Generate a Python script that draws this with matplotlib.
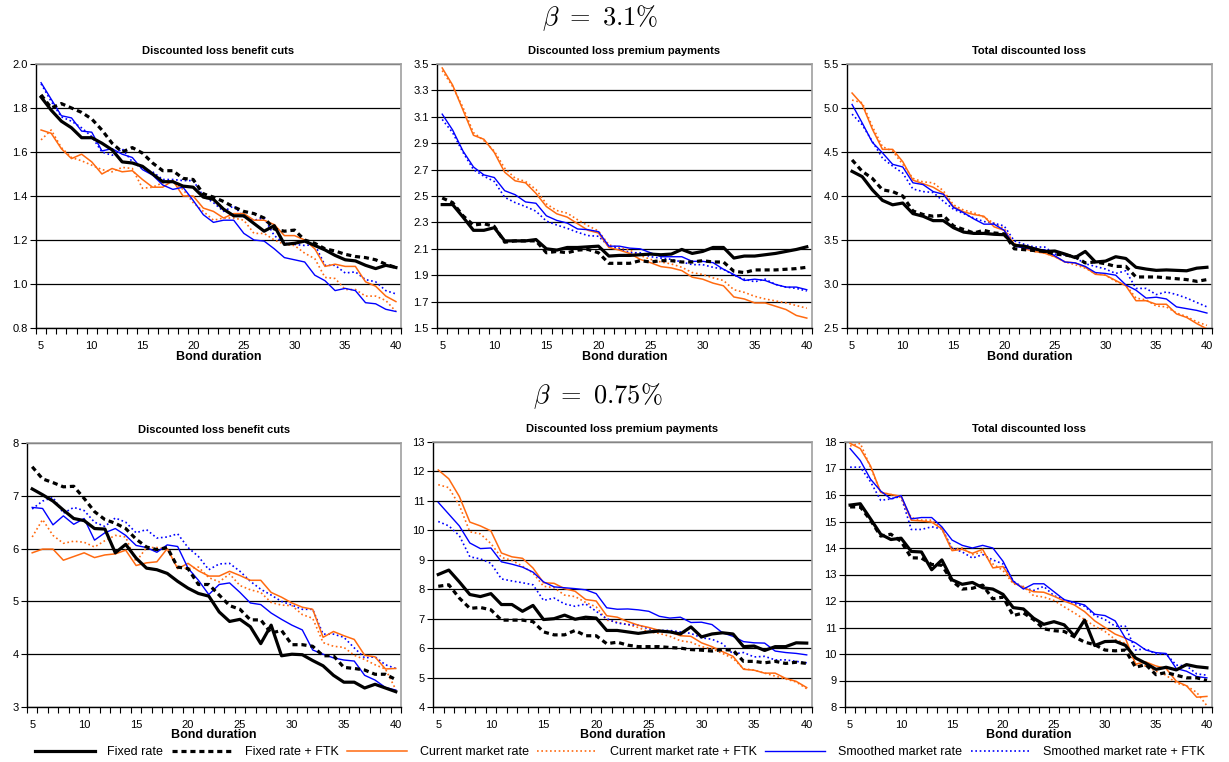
import numpy as np
import matplotlib
matplotlib.use("Agg")
import matplotlib.pyplot as plt
from matplotlib.ticker import FormatStrFormatter, FixedLocator

plt.rcParams["font.family"] = ["Liberation Sans", "DejaVu Sans"]
plt.rcParams["mathtext.fontset"] = "cm"

durations = list(range(5, 41))

# --- beta = 3.1% -------------------------------------------------------------
# Discounted loss benefit cuts
cuts_hi_fixed = [1.85, 1.79, 1.74, 1.71, 1.665, 1.665, 1.64, 1.61, 1.555, 1.55, 1.535, 1.50,
                 1.465, 1.465, 1.445, 1.44, 1.395, 1.385, 1.34, 1.31, 1.31, 1.275, 1.24, 1.265,
                 1.18, 1.185, 1.195, 1.175, 1.155, 1.13, 1.11, 1.105, 1.085, 1.07, 1.085, 1.075]
cuts_hi_fixed_ftk = [1.86, 1.80, 1.82, 1.80, 1.78, 1.75, 1.70, 1.64, 1.60, 1.62, 1.595, 1.55,
                     1.515, 1.515, 1.48, 1.475, 1.41, 1.395, 1.375, 1.35, 1.33, 1.32, 1.30, 1.25,
                     1.24, 1.245, 1.20, 1.185, 1.16, 1.15, 1.135, 1.125, 1.12, 1.11, 1.09, 1.075]
cuts_hi_cur = [1.70, 1.685, 1.615, 1.57, 1.59, 1.555, 1.50, 1.525, 1.51, 1.515, 1.475, 1.44,
               1.44, 1.47, 1.40, 1.40, 1.345, 1.33, 1.30, 1.32, 1.32, 1.29, 1.29, 1.27,
               1.22, 1.22, 1.20, 1.16, 1.08, 1.09, 1.08, 1.08, 1.01, 0.99, 0.945, 0.92]
cuts_hi_cur_ftk = [1.655, 1.70, 1.62, 1.575, 1.56, 1.54, 1.52, 1.51, 1.53, 1.525, 1.435, 1.44,
                   1.46, 1.465, 1.43, 1.37, 1.33, 1.29, 1.30, 1.30, 1.29, 1.23, 1.23, 1.20,
                   1.18, 1.175, 1.14, 1.115, 1.03, 1.025, 0.975, 0.975, 0.945, 0.945, 0.925, 0.875]
cuts_hi_smo = [1.915, 1.84, 1.765, 1.755, 1.695, 1.69, 1.605, 1.615, 1.59, 1.575, 1.52, 1.495,
               1.45, 1.43, 1.44, 1.38, 1.315, 1.28, 1.29, 1.29, 1.23, 1.20, 1.195, 1.16,
               1.12, 1.11, 1.10, 1.04, 1.015, 0.97, 0.98, 0.97, 0.915, 0.91, 0.885, 0.875]
cuts_hi_smo_ftk = [1.91, 1.83, 1.76, 1.74, 1.71, 1.67, 1.60, 1.585, 1.615, 1.555, 1.525, 1.51,
                   1.475, 1.475, 1.47, 1.47, 1.40, 1.37, 1.33, 1.355, 1.305, 1.29, 1.30, 1.22,
                   1.185, 1.18, 1.175, 1.18, 1.085, 1.085, 1.05, 1.055, 1.02, 1.01, 0.97, 0.955]

# Discounted loss premium payments
prem_hi_fixed = [2.435, 2.435, 2.34, 2.24, 2.24, 2.26, 2.16, 2.16, 2.16, 2.17, 2.10, 2.09,
                 2.11, 2.11, 2.115, 2.12, 2.045, 2.05, 2.05, 2.055, 2.06, 2.055, 2.06, 2.095,
                 2.065, 2.08, 2.11, 2.11, 2.03, 2.045, 2.045, 2.055, 2.065, 2.08, 2.095, 2.115]
prem_hi_fixed_ftk = [2.485, 2.45, 2.35, 2.28, 2.29, 2.27, 2.15, 2.16, 2.16, 2.16, 2.07, 2.08,
                     2.07, 2.09, 2.095, 2.07, 1.99, 1.99, 1.99, 2.01, 2.00, 2.01, 2.01, 2.00,
                     2.00, 2.01, 2.00, 2.00, 1.93, 1.92, 1.94, 1.94, 1.94, 1.945, 1.95, 1.96]
prem_hi_cur = [3.47, 3.34, 3.15, 2.96, 2.93, 2.83, 2.68, 2.615, 2.60, 2.52, 2.42, 2.365,
               2.34, 2.29, 2.24, 2.22, 2.11, 2.09, 2.065, 2.02, 1.995, 1.965, 1.955, 1.935,
               1.885, 1.87, 1.84, 1.82, 1.735, 1.72, 1.69, 1.69, 1.665, 1.64, 1.595, 1.575]
prem_hi_cur_ftk = [3.45, 3.33, 3.17, 2.98, 2.92, 2.84, 2.71, 2.635, 2.61, 2.55, 2.44, 2.39,
                   2.37, 2.32, 2.275, 2.235, 2.13, 2.11, 2.09, 2.05, 2.02, 2.00, 1.985, 1.96,
                   1.92, 1.905, 1.88, 1.86, 1.79, 1.77, 1.74, 1.72, 1.705, 1.69, 1.67, 1.65]
prem_hi_smo = [3.12, 3.00, 2.84, 2.72, 2.66, 2.64, 2.54, 2.51, 2.455, 2.445, 2.35, 2.315,
               2.295, 2.25, 2.245, 2.23, 2.12, 2.12, 2.105, 2.10, 2.07, 2.04, 2.04, 2.04,
               2.005, 2.005, 1.995, 1.945, 1.905, 1.86, 1.87, 1.86, 1.83, 1.81, 1.81, 1.79]
prem_hi_smo_ftk = [3.08, 2.98, 2.83, 2.70, 2.65, 2.61, 2.49, 2.45, 2.42, 2.385, 2.31, 2.28,
                   2.255, 2.225, 2.20, 2.195, 2.12, 2.10, 2.07, 2.07, 2.04, 2.03, 2.02, 2.00,
                   1.98, 1.98, 1.96, 1.945, 1.90, 1.87, 1.85, 1.87, 1.83, 1.81, 1.80, 1.78]

# Total discounted loss
total_hi_fixed = [4.28, 4.22, 4.07, 3.95, 3.90, 3.92, 3.80, 3.77, 3.72, 3.72, 3.64, 3.59,
                  3.575, 3.575, 3.565, 3.56, 3.44, 3.43, 3.40, 3.37, 3.375, 3.34, 3.30, 3.37,
                  3.25, 3.26, 3.31, 3.29, 3.19, 3.17, 3.155, 3.16, 3.155, 3.15, 3.18, 3.19]
total_hi_fixed_ftk = [4.41, 4.28, 4.20, 4.07, 4.05, 4.00, 3.83, 3.79, 3.77, 3.78, 3.66, 3.62,
                      3.58, 3.61, 3.58, 3.57, 3.40, 3.39, 3.38, 3.37, 3.34, 3.33, 3.31, 3.24,
                      3.25, 3.23, 3.20, 3.20, 3.08, 3.08, 3.08, 3.07, 3.06, 3.05, 3.03, 3.05]
total_hi_cur = [5.17, 5.04, 4.76, 4.53, 4.53, 4.39, 4.18, 4.14, 4.10, 4.03, 3.88, 3.82,
                3.79, 3.77, 3.65, 3.61, 3.45, 3.40, 3.37, 3.35, 3.31, 3.25, 3.24, 3.19,
                3.11, 3.10, 3.04, 2.98, 2.81, 2.81, 2.77, 2.77, 2.66, 2.62, 2.55, 2.49]
total_hi_cur_ftk = [5.09, 5.06, 4.79, 4.56, 4.51, 4.36, 4.20, 4.16, 4.15, 4.06, 3.90, 3.84,
                    3.81, 3.76, 3.69, 3.63, 3.46, 3.41, 3.37, 3.35, 3.31, 3.25, 3.22, 3.18,
                    3.12, 3.10, 3.03, 2.99, 2.84, 2.82, 2.75, 2.74, 2.67, 2.63, 2.57, 2.53]
total_hi_smo = [5.04, 4.83, 4.61, 4.49, 4.36, 4.33, 4.15, 4.13, 4.05, 4.02, 3.87, 3.81,
                3.74, 3.68, 3.68, 3.61, 3.43, 3.41, 3.39, 3.39, 3.32, 3.25, 3.24, 3.20,
                3.13, 3.12, 3.10, 2.99, 2.93, 2.84, 2.85, 2.83, 2.74, 2.72, 2.70, 2.67]
total_hi_smo_ftk = [4.93, 4.81, 4.62, 4.43, 4.34, 4.26, 4.08, 4.05, 4.04, 3.94, 3.85, 3.80,
                    3.75, 3.71, 3.69, 3.66, 3.49, 3.45, 3.42, 3.42, 3.34, 3.33, 3.30, 3.23,
                    3.20, 3.17, 3.12, 3.15, 2.95, 2.95, 2.88, 2.91, 2.88, 2.84, 2.79, 2.74]

# --- beta = 0.75% ------------------------------------------------------------
cuts_lo_fixed = [7.13, 7.02, 6.90, 6.73, 6.57, 6.53, 6.38, 6.37, 5.92, 6.08, 5.82, 5.63,
                 5.60, 5.53, 5.38, 5.25, 5.15, 5.10, 4.80, 4.62, 4.66, 4.52, 4.20, 4.55,
                 3.97, 4.00, 3.99, 3.88, 3.78, 3.60, 3.47, 3.47, 3.36, 3.43, 3.36, 3.29]
cuts_lo_fixed_ftk = [7.55, 7.32, 7.25, 7.17, 7.18, 6.95, 6.70, 6.55, 6.48, 6.38, 6.18, 6.03,
                     5.98, 6.02, 5.65, 5.62, 5.32, 5.32, 5.12, 4.92, 4.85, 4.65, 4.65, 4.40,
                     4.45, 4.18, 4.18, 4.15, 3.97, 3.97, 3.75, 3.73, 3.70, 3.62, 3.62, 3.52]
cuts_lo_cur = [5.92, 5.99, 5.99, 5.78, 5.85, 5.92, 5.83, 5.88, 5.90, 5.97, 5.68, 5.73,
               5.75, 6.00, 5.62, 5.72, 5.58, 5.48, 5.48, 5.57, 5.49, 5.40, 5.40, 5.17,
               5.08, 4.97, 4.89, 4.85, 4.32, 4.43, 4.35, 4.28, 3.98, 3.95, 3.72, 3.73]
cuts_lo_cur_ftk = [6.22, 6.55, 6.25, 6.10, 6.14, 6.12, 6.03, 6.15, 6.25, 6.22, 5.75, 6.02,
                   6.02, 5.99, 5.65, 5.62, 5.65, 5.45, 5.37, 5.52, 5.30, 5.22, 5.17, 4.98,
                   4.93, 4.92, 4.75, 4.68, 4.22, 4.15, 4.13, 3.98, 3.90, 3.80, 3.72, 3.33]
cuts_lo_smo = [6.78, 6.76, 6.45, 6.62, 6.46, 6.57, 6.16, 6.30, 6.38, 6.25, 6.06, 6.02,
               5.93, 6.07, 6.04, 5.63, 5.40, 5.13, 5.32, 5.35, 5.17, 4.97, 4.94, 4.78,
               4.66, 4.55, 4.46, 4.08, 4.00, 3.93, 3.89, 3.87, 3.60, 3.51, 3.37, 3.32]
cuts_lo_smo_ftk = [6.75, 6.90, 6.97, 6.67, 6.78, 6.72, 6.50, 6.42, 6.58, 6.50, 6.30, 6.36,
                   6.20, 6.22, 6.28, 6.02, 5.85, 5.60, 5.71, 5.72, 5.57, 5.38, 5.23, 5.12,
                   5.00, 4.93, 4.85, 4.85, 4.38, 4.38, 4.32, 4.12, 3.93, 3.95, 3.80, 3.73]

prem_lo_fixed = [8.50, 8.65, 8.25, 7.82, 7.75, 7.85, 7.48, 7.48, 7.25, 7.45, 6.97, 7.00,
                 7.12, 6.98, 7.05, 7.02, 6.60, 6.60, 6.55, 6.50, 6.55, 6.58, 6.55, 6.48,
                 6.72, 6.38, 6.48, 6.52, 6.48, 6.05, 6.07, 5.92, 6.05, 6.05, 6.18, 6.17]
prem_lo_fixed_ftk = [8.10, 8.15, 7.70, 7.35, 7.38, 7.30, 6.95, 6.95, 6.95, 6.90, 6.55, 6.45,
                     6.45, 6.60, 6.42, 6.42, 6.15, 6.20, 6.10, 6.05, 6.05, 6.05, 6.02, 6.00,
                     5.95, 5.93, 5.90, 5.95, 5.93, 5.55, 5.55, 5.50, 5.55, 5.48, 5.52, 5.48]
prem_lo_cur = [12.05, 11.75, 11.15, 10.28, 10.15, 9.98, 9.23, 9.10, 9.05, 8.72, 8.22, 8.20,
               8.02, 7.93, 7.65, 7.60, 7.10, 7.05, 6.90, 6.78, 6.70, 6.60, 6.55, 6.42,
               6.40, 6.18, 6.05, 5.88, 5.72, 5.28, 5.25, 5.15, 5.15, 4.97, 4.87, 4.66]
prem_lo_cur_ftk = [11.55, 11.45, 10.85, 9.95, 9.88, 9.55, 9.08, 8.98, 8.78, 8.55, 8.10, 8.05,
                   7.80, 7.75, 7.55, 7.40, 6.95, 6.88, 6.80, 6.70, 6.55, 6.50, 6.40, 6.25,
                   6.20, 6.05, 5.98, 5.82, 5.65, 5.30, 5.25, 5.15, 5.05, 4.95, 4.85, 4.62]
prem_lo_smo = [10.95, 10.55, 10.15, 9.57, 9.38, 9.40, 8.93, 8.85, 8.75, 8.58, 8.25, 8.08,
               8.05, 8.02, 7.98, 7.85, 7.37, 7.32, 7.33, 7.30, 7.25, 7.08, 7.02, 7.05,
               6.87, 6.88, 6.80, 6.52, 6.40, 6.22, 6.18, 6.17, 5.90, 5.85, 5.82, 5.77]
prem_lo_smo_ftk = [10.30, 10.15, 9.82, 9.10, 9.03, 8.88, 8.35, 8.28, 8.22, 8.15, 7.62, 7.70,
                   7.50, 7.42, 7.50, 7.25, 7.00, 6.85, 6.80, 6.78, 6.65, 6.60, 6.60, 6.55,
                   6.50, 6.35, 6.30, 6.15, 5.80, 5.85, 5.70, 5.72, 5.60, 5.60, 5.55, 5.50]

total_lo_fixed = [15.62, 15.67, 15.10, 14.52, 14.32, 14.37, 13.87, 13.85, 13.18, 13.55, 12.80, 12.63,
                  12.70, 12.50, 12.45, 12.25, 11.75, 11.70, 11.35, 11.12, 11.22, 11.10, 10.68, 11.28,
                  10.32, 10.47, 10.48, 10.33, 9.85, 9.65, 9.42, 9.50, 9.40, 9.60, 9.52, 9.48]
total_lo_fixed_ftk = [15.55, 15.55, 15.05, 14.45, 14.52, 14.25, 13.63, 13.62, 13.38, 13.35, 12.75, 12.45,
                      12.48, 12.60, 12.08, 12.15, 11.45, 11.55, 11.30, 10.95, 10.88, 10.85, 10.65, 10.45,
                      10.35, 10.15, 10.12, 10.15, 9.50, 9.60, 9.22, 9.30, 9.20, 9.10, 9.10, 9.00]
total_lo_cur = [17.95, 17.75, 17.10, 16.10, 16.02, 15.95, 15.05, 15.02, 14.98, 14.72, 13.90, 13.95,
                13.80, 13.95, 13.25, 13.30, 12.70, 12.50, 12.35, 12.33, 12.18, 12.00, 11.85, 11.60,
                11.25, 11.00, 10.75, 10.60, 9.62, 9.70, 9.55, 9.45, 8.97, 8.80, 8.37, 8.40]
total_lo_cur_ftk = [17.85, 17.95, 17.05, 16.10, 16.02, 15.90, 15.15, 15.05, 15.05, 14.75, 13.95, 14.00,
                    13.75, 13.85, 13.40, 13.15, 12.65, 12.55, 12.20, 12.15, 12.02, 11.78, 11.55, 11.30,
                    11.05, 10.85, 10.55, 10.40, 9.60, 9.55, 9.35, 9.20, 8.90, 8.80, 8.55, 8.05]
total_lo_smo = [17.75, 17.30, 16.60, 16.15, 15.85, 15.98, 15.10, 15.15, 15.15, 14.80, 14.30, 14.10,
                14.00, 14.10, 14.00, 13.50, 12.75, 12.45, 12.65, 12.65, 12.35, 12.05, 11.95, 11.85,
                11.50, 11.45, 11.25, 10.60, 10.42, 10.15, 10.05, 10.02, 9.45, 9.35, 9.15, 9.10]
total_lo_smo_ftk = [17.05, 17.05, 16.50, 15.80, 15.85, 15.95, 14.70, 14.70, 14.80, 14.72, 14.00, 13.85,
                    13.62, 13.75, 13.55, 13.40, 12.75, 12.50, 12.40, 12.55, 12.20, 12.05, 11.90, 11.80,
                    11.45, 11.30, 11.05, 11.05, 10.15, 10.20, 10.00, 10.00, 9.58, 9.55, 9.25, 9.20]

labels = ["Fixed rate", "Fixed rate + FTK", "Current market rate",
          "Current market rate + FTK", "Smoothed market rate", "Smoothed market rate + FTK"]

ORANGE = "#ff6a10"
BLUE = "#0000ff"
styles = [
    dict(color="black", lw=2.3, ls="-", zorder=6),
    dict(color="black", lw=2.3, ls=(0, (1.6, 1.2)), zorder=5),
    dict(color=ORANGE, lw=1.1, ls="-", zorder=4),
    dict(color=ORANGE, lw=1.2, ls=(0, (1, 1.6)), zorder=3),
    dict(color=BLUE, lw=1.0, ls="-", zorder=4),
    dict(color=BLUE, lw=1.2, ls=(0, (1, 1.6)), zorder=3),
]


def draw_panel(ax, series, title, ylo, yhi, ystep, fmt):
    handles = []
    for vals, st, lab in zip(series, styles, labels):
        h, = ax.plot(durations, vals, label=lab, **st)
        handles.append(h)
    ax.set_xlim(4.5, 40.5)
    ax.set_ylim(ylo, yhi)
    ax.yaxis.set_major_locator(FixedLocator(np.arange(ylo, yhi + ystep / 2, ystep)))
    ax.yaxis.set_major_formatter(FormatStrFormatter(fmt))
    ax.xaxis.set_major_locator(FixedLocator(range(5, 41, 5)))
    ax.xaxis.set_minor_locator(FixedLocator(np.arange(4.5, 41, 1.0)))
    ax.tick_params(axis="x", which="major", length=0, labelsize=8, pad=9)
    ax.tick_params(axis="x", which="minor", length=4, width=0.8, direction="out")
    ax.tick_params(axis="y", length=4, width=0.8, labelsize=8, direction="out", pad=2)
    ax.grid(axis="y", color="black", lw=0.9)
    ax.set_axisbelow(True)
    for side in ("top", "right"):
        ax.spines[side].set_color("#a0a0a0")
        ax.spines[side].set_linewidth(1.2)
    for side in ("left", "bottom"):
        ax.spines[side].set_color("black")
        ax.spines[side].set_linewidth(1.0)
    ax.set_title(title, fontsize=8, fontweight="bold", pad=7)
    ax.set_xlabel("Bond duration", fontsize=9, fontweight="bold", labelpad=0)
    return handles


W, H = 1229, 762
fig = plt.figure(figsize=(W / 100, H / 100), dpi=100)


def box(l, r, t, b):
    return [l / W, 1 - b / H, (r - l) / W, (b - t) / H]


ax1 = fig.add_axes(box(36, 401, 64, 328))
ax2 = fig.add_axes(box(437, 812, 64, 328))
ax3 = fig.add_axes(box(847, 1212, 64, 328))
ax4 = fig.add_axes(box(27, 401, 443, 707))
ax5 = fig.add_axes(box(433, 812, 442, 707))
ax6 = fig.add_axes(box(845, 1212, 442, 707))

handles = draw_panel(ax1, [cuts_hi_fixed, cuts_hi_fixed_ftk, cuts_hi_cur, cuts_hi_cur_ftk,
                           cuts_hi_smo, cuts_hi_smo_ftk],
                     "Discounted loss benefit cuts", 0.8, 2.0, 0.2, "%.1f")
draw_panel(ax2, [prem_hi_fixed, prem_hi_fixed_ftk, prem_hi_cur, prem_hi_cur_ftk,
                 prem_hi_smo, prem_hi_smo_ftk],
           "Discounted loss premium payments", 1.5, 3.5, 0.2, "%.1f")
draw_panel(ax3, [total_hi_fixed, total_hi_fixed_ftk, total_hi_cur, total_hi_cur_ftk,
                 total_hi_smo, total_hi_smo_ftk],
           "Total discounted loss", 2.5, 5.5, 0.5, "%.1f")
draw_panel(ax4, [cuts_lo_fixed, cuts_lo_fixed_ftk, cuts_lo_cur, cuts_lo_cur_ftk,
                 cuts_lo_smo, cuts_lo_smo_ftk],
           "Discounted loss benefit cuts", 3, 8, 1, "%d")
draw_panel(ax5, [prem_lo_fixed, prem_lo_fixed_ftk, prem_lo_cur, prem_lo_cur_ftk,
                 prem_lo_smo, prem_lo_smo_ftk],
           "Discounted loss premium payments", 4, 13, 1, "%d")
draw_panel(ax6, [total_lo_fixed, total_lo_fixed_ftk, total_lo_cur, total_lo_cur_ftk,
                 total_lo_smo, total_lo_smo_ftk],
           "Total discounted loss", 8, 18, 1, "%d")

fig.text(600 / W, 1 - 18 / H, r"$\beta\ =\ 3.1\%$", fontsize=19, ha="center", va="center")
fig.text(598 / W, 1 - 396 / H, r"$\beta\ =\ 0.75\%$", fontsize=19, ha="center", va="center")

fig.legend(handles, labels, loc="center", bbox_to_anchor=(620 / W, 1 - 752 / H),
           ncol=6, frameon=False, fontsize=9, handlelength=4.8, handletextpad=1.0,
           columnspacing=0.7, borderaxespad=0, borderpad=0)

fig.savefig("out.png", dpi=100)
